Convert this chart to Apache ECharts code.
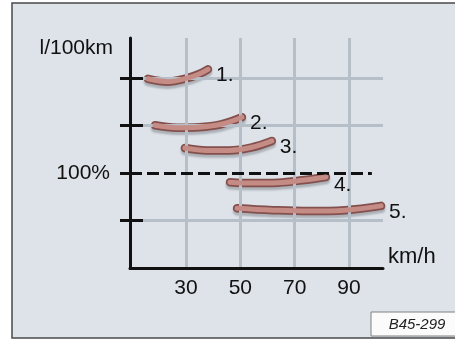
<!DOCTYPE html>
<html><head><meta charset="utf-8">
<script src="https://cdn.jsdelivr.net/npm/echarts@6/dist/echarts.min.js"></script>
<style>html,body{margin:0;padding:0;background:#fff}#c{width:455px;height:340px}</style>
</head><body><div id="c"></div>
<script>
// ---- data ----
const speedTicks = [30, 50, 70, 90];
const consumptionTicks = [1, 3, 4];
const referenceLevel = 2;
const referenceLabel = '100%';
const gearNames = ['1.', '2.', '3.', '4.', '5.'];
const gear1 = [[16.0,3.99],[23.4,3.93],[30.7,4.01],[34.4,4.08],[38.1,4.19]];
const gear2 = [[18.6,3.01],[26.7,2.96],[34.8,2.97],[42.9,3.03],[50.6,3.18]];
const gear3 = [[29.6,2.53],[37.7,2.48],[45.8,2.48],[53.9,2.54],[61.6,2.68]];
const gear4 = [[46.2,1.81],[55.0,1.79],[63.9,1.80],[72.7,1.85],[81.5,1.92]];
const gear5 = [[48.8,1.26],[62.0,1.22],[75.3,1.20],[88.5,1.22],[101.8,1.31]];
const xMin = 9.4, xMax = 102.5, yMin = 0, yMax = 4.85;
const refLineEnd = 98.4;
const figureCode = 'B45-299';

const gears = [gear1, gear2, gear3, gear4, gear5];
const FONT = "'Liberation Sans', Arial, sans-serif";

const chart = echarts.init(document.getElementById('c'), null, {renderer: 'canvas'});

const series = [];
// grid lines
series.push({
  type: 'line', data: [], silent: true, z: 1,
  markLine: {
    silent: true, symbol: 'none', animation: false,
    label: {show: false},
    lineStyle: {color: '#b6bec8', width: 3, type: 'solid'},
    data: speedTicks.map(v => ({xAxis: v})).concat(consumptionTicks.map(v => ({yAxis: v})))
  }
});
// dashed 100% line
series.push({
  type: 'line', data: [], silent: true, z: 3,
  markLine: {
    silent: true, symbol: 'none', animation: false,
    label: {show: false},
    lineStyle: {color: '#111', width: 3, type: [12, 5]},
    data: [[{coord: [xMin, referenceLevel]}, {coord: [refLineEnd, referenceLevel]}]]
  }
});
gears.forEach((g, i) => {
  series.push({
    type: 'line', name: gearNames[i] + 'o', data: g, smooth: 0.4,
    symbol: 'none', z: 4, silent: true,
    lineStyle: {color: '#84504d', width: 8.5, cap: 'round',
      shadowColor: 'rgba(60,60,70,0.3)', shadowBlur: 2, shadowOffsetY: 3}
  });
  series.push({
    type: 'line', name: gearNames[i], data: g, smooth: 0.4,
    symbol: 'none', z: 5, silent: true,
    lineStyle: {color: '#c58c86', width: 5, cap: 'round'},
    endLabel: {show: true, formatter: gearNames[i], fontFamily: FONT, fontSize: 21,
      color: '#111', distance: 8, offset: [0, i === 3 ? 8 : 6]}
  });
});

chart.setOption({
  animation: false,
  backgroundColor: '#ffffff',
  grid: {left: 130, right: 72, top: 38, bottom: 72},
  graphic: [
    {type: 'rect', z: -10, shape: {x: 12, y: 3, width: 460, height: 335},
      style: {fill: '#dde3e9', stroke: '#4a4a4a', lineWidth: 1.5}},
    {type: 'rect', z: 100, shape: {x: 371, y: 312, width: 90, height: 24},
      style: {fill: '#fbfbfb', stroke: '#808080', lineWidth: 1}},
    {type: 'text', z: 101, x: 417, y: 325,
      style: {text: figureCode, font: "italic 15px 'Liberation Sans', Arial, sans-serif",
        fill: '#222', align: 'center', verticalAlign: 'middle'}}
  ],
  xAxis: {
    type: 'value', min: xMin, max: xMax, z: 10,
    axisLine: {show: true, lineStyle: {color: '#111', width: 3}},
    axisTick: {show: false},
    splitLine: {show: false},
    axisLabel: {customValues: speedTicks, fontFamily: FONT, fontSize: 21, color: '#111', margin: 10},
    name: 'km/h', nameLocation: 'end', nameGap: 5,
    nameTextStyle: {fontFamily: FONT, fontSize: 22, color: '#111', verticalAlign: 'bottom', align: 'left'}
  },
  yAxis: [{
    type: 'value', min: yMin, max: yMax, z: 10,
    axisLine: {show: true, lineStyle: {color: '#111', width: 3}},
    axisTick: {show: true, customValues: consumptionTicks.concat([referenceLevel]), length: 10,
      lineStyle: {color: '#111', width: 3}},
    splitLine: {show: false},
    axisLabel: {customValues: [referenceLevel], formatter: () => referenceLabel,
      fontFamily: FONT, fontSize: 21, color: '#111', margin: 20},
    name: 'l/100km', nameLocation: 'end', nameGap: -10,
    nameTextStyle: {fontFamily: FONT, fontSize: 21, color: '#111', align: 'right',
      verticalAlign: 'middle', padding: [0, 17, 0, 0]}
  }, {
    type: 'value', min: yMin, max: yMax, position: 'left', z: 10,
    axisLine: {show: false},
    axisTick: {show: true, inside: true, customValues: consumptionTicks, length: 13,
      lineStyle: {color: '#111', width: 3}},
    splitLine: {show: false},
    axisLabel: {show: false}
  }],
  series: series
});
</script></body></html>
